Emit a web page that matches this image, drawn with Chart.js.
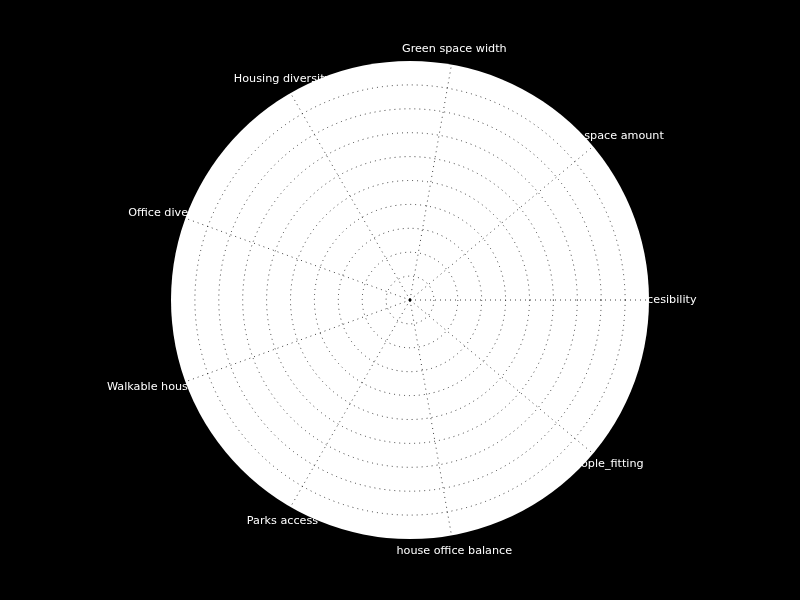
<!DOCTYPE html>
<html>
<head>
<meta charset="utf-8">
<script src="https://cdn.jsdelivr.net/npm/chart.js@4/dist/chart.umd.min.js"></script>
<style>
  html, body { margin: 0; padding: 0; background: #000; }
  canvas { display: block; background: #000; }
</style>
</head>
<body>
<canvas id="c" width="800" height="600"></canvas>
<script>
// Categories in counter-clockwise order, starting at the right (0 degrees)
const categories = [
  'Accesibility',
  'Green space amount',
  'Green space width',
  'Housing diversity',
  'Office diversity',
  'Walkable housing area',
  'Parks access',
  'house office balance',
  'people_fitting'
];
const values = [0, 0, 0, 0, 0, 0, 0, 0, 0];
const rMin = 0;
const rMax = 10;
const rStep = 1;

// Chart.js goes clockwise; reorder so the layout runs counter-clockwise from the right
const order = categories.map((c, i) => (i === 0 ? 0 : categories.length - i));
const chartLabels = order.map(i => categories[i]);
const chartData = order.map(i => values[i]);

const labelPlugin = {
  id: 'outerLabels',
  beforeDraw(chart) {
    const scale = chart.scales.r;
    const ctx = chart.ctx;
    ctx.save();
    ctx.fillStyle = '#ffffff';
    ctx.font = '11.2px "DejaVu Sans"';
    ctx.textAlign = 'center';
    ctx.textBaseline = 'middle';
    chart.data.labels.forEach((lab, i) => {
      const p = scale.getPointPosition(i, scale.drawingArea + 16);
      ctx.fillText(lab, p.x, p.y);
    });
    ctx.restore();
  }
};

new Chart(document.getElementById('c'), {
  type: 'radar',
  data: {
    labels: chartLabels,
    datasets: [{
      data: chartData,
      borderColor: '#000000',
      backgroundColor: '#000000',
      borderWidth: 1,
      pointRadius: 1.2,
      pointBackgroundColor: '#000000',
      pointBorderWidth: 0,
      fill: false
    }]
  },
  options: {
    responsive: false,
    animation: false,
    devicePixelRatio: 1,
    layout: { padding: { left: 171, right: 151, top: 61, bottom: 61 } },
    plugins: { legend: { display: false }, tooltip: { enabled: false } },
    scales: {
      r: {
        min: rMin,
        max: rMax,
        startAngle: 90,
        backgroundColor: '#ffffff',
        ticks: { display: false, stepSize: rStep },
        pointLabels: { display: false },
        grid: {
          circular: true,
          lineWidth: 1,
          color: (c) => (c.tick && c.tick.value === rMax ? 'rgba(0,0,0,0)' : 'rgba(0,0,0,0.75)')
        },
        border: { dash: [1, 4] },
        angleLines: {
          display: true,
          color: 'rgba(0,0,0,0.75)',
          lineWidth: 1,
          borderDash: [1, 4]
        }
      }
    }
  },
  plugins: [labelPlugin]
});
</script>
</body>
</html>
